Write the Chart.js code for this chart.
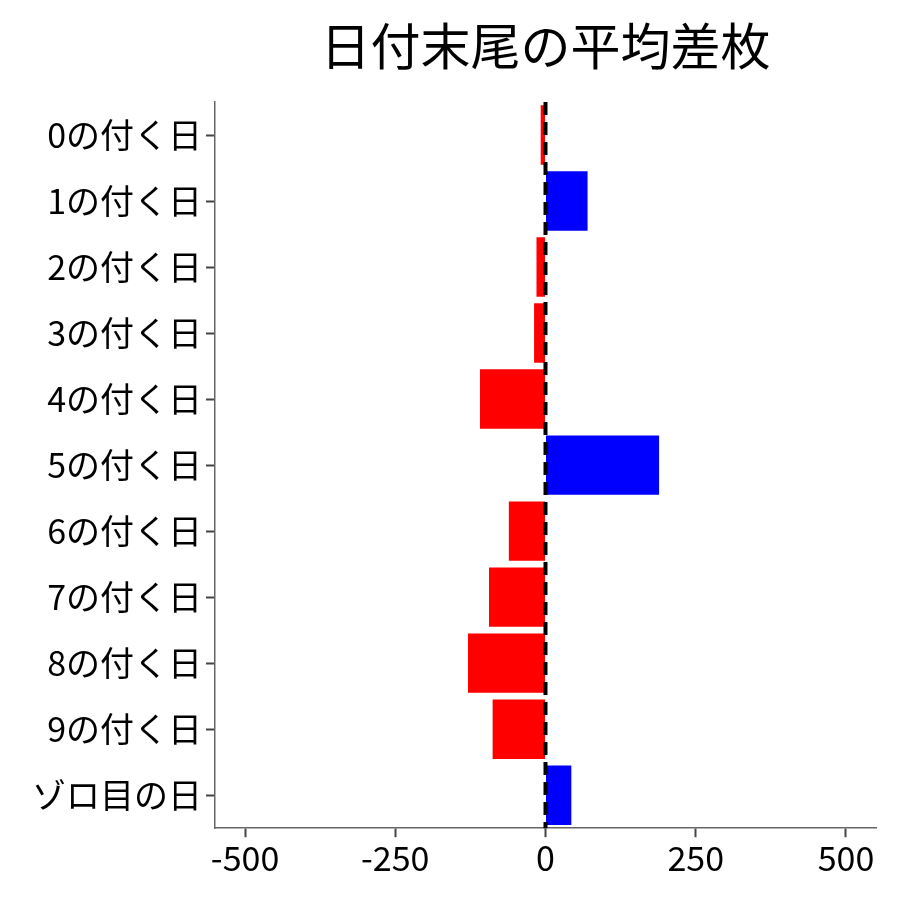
<!DOCTYPE html>
<html>
<head>
<meta charset="utf-8">
<script src="https://cdn.jsdelivr.net/npm/chart.js@4"></script>
<style>
  html, body { margin: 0; padding: 0; background: #fff; }
  #wrap { width: 900px; height: 900px; }
</style>
</head>
<body>
<div id="wrap"><canvas id="chart" width="900" height="900"></canvas></div>
<script>
const categories = ['0の付く日', '1の付く日', '2の付く日', '3の付く日', '4の付く日', '5の付く日',
    '6の付く日', '7の付く日', '8の付く日', '9の付く日', 'ゾロ目の日'];
const diffValues = [-8, 70, -15, -19, -109, 189, -61, -94, -129, -88, 43];
const xTicks = [-500, -250, 0, 250, 500];
const chartTitle = '日付末尾の平均差枚';

const FONT = '"Noto Sans CJK JP", "Noto Sans", sans-serif';

// dashed zero line over the bars, plus title centred on the plot area
const overlay = {
    id: 'overlay',
    afterDatasetsDraw(chart) {
        const { ctx, chartArea, scales } = chart;
        const x = scales.x.getPixelForValue(0);
        ctx.save();
        ctx.strokeStyle = '#000';
        ctx.lineWidth = 4;
        ctx.setLineDash([13, 7]);
        ctx.beginPath();
        ctx.moveTo(x, chartArea.top);
        ctx.lineTo(x, chartArea.bottom);
        ctx.stroke();
        ctx.setLineDash([]);
        ctx.fillStyle = '#000';
        ctx.font = `50px ${FONT}`;
        ctx.textAlign = 'center';
        ctx.textBaseline = 'middle';
        ctx.fillText(chartTitle, (chartArea.left + chartArea.right) / 2, 46);
        ctx.restore();
    }
};

new Chart(document.getElementById('chart'), {
    type: 'bar',
    data: {
        labels: categories,
        datasets: [{
            data: diffValues,
            backgroundColor: diffValues.map((v) => (v < 0 ? '#ff0000' : '#0000ff')),
            categoryPercentage: 1,
            barPercentage: 0.9,
        }]
    },
    options: {
        indexAxis: 'y',
        responsive: false,
        animation: false,
        layout: { padding: { top: 102, right: 24, bottom: 22, left: 28 } },
        plugins: {
            legend: { display: false },
            tooltip: { enabled: false },
            title: { display: false }
        },
        scales: {
            x: {
                min: -550,
                max: 550,
                afterBuildTicks: (axis) => { axis.ticks = xTicks.map((v) => ({ value: v })); },
                ticks: { color: '#000', font: { family: FONT, size: 34 }, padding: 0 },
                grid: { drawOnChartArea: false, tickLength: 9, color: '#444', tickWidth: 2 },
                border: { color: '#666', width: 1.5 }
            },
            y: {
                ticks: { color: '#000', font: { family: FONT, size: 34 }, padding: 4 },
                grid: { drawOnChartArea: false, offset: false, tickLength: 9, color: '#444', tickWidth: 2 },
                border: { color: '#666', width: 1.5 }
            }
        }
    },
    plugins: [overlay]
});
</script>
</body>
</html>
